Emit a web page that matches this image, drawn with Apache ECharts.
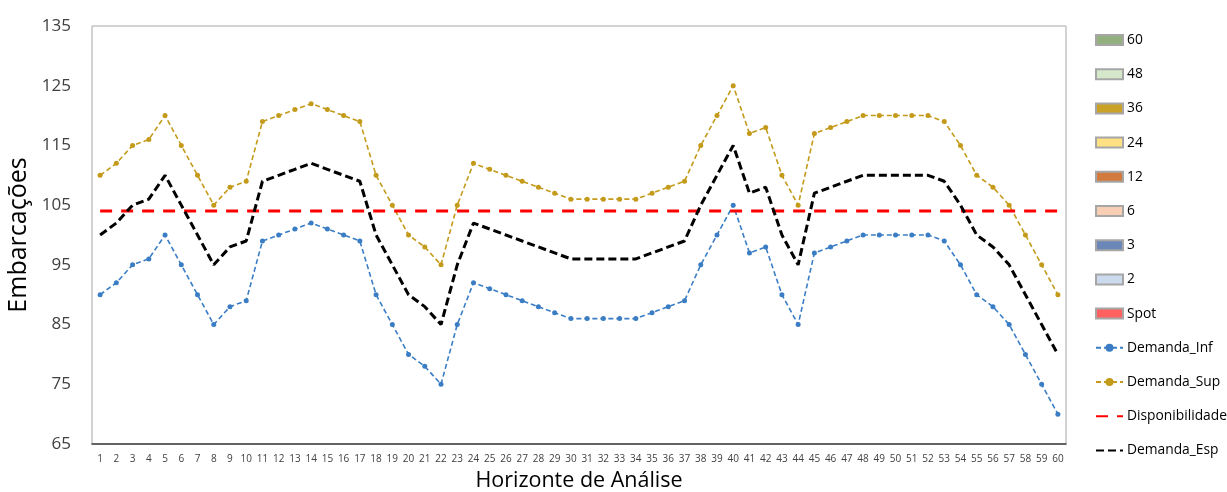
<!DOCTYPE html>
<html><head><meta charset="utf-8">
<script src="https://cdn.jsdelivr.net/npm/echarts@6/dist/echarts.min.js"></script>
<style>html,body{margin:0;padding:0;background:#fff}#c{width:1227px;height:492px}</style>
</head><body><div id="c"></div>
<script>
var categories = [];
for (var i = 1; i <= 60; i++) categories.push(String(i));
var yTicks = [65, 75, 85, 95, 105, 115, 125, 135];
var demandaInf = [90,92,95,96,100,95,90,85,88,89,99,100,101,102,101,100,99,90,85,80,78,75,85,92,91,90,89,88,87,86,86,86,86,86,87,88,89,95,100,105,97,98,90,85,97,98,99,100,100,100,100,100,99,95,90,88,85,80,75,70];
var demandaSup = [110,112,115,116,120,115,110,105,108,109,119,120,121,122,121,120,119,110,105,100,98,95,105,112,111,110,109,108,107,106,106,106,106,106,107,108,109,115,120,125,117,118,110,105,117,118,119,120,120,120,120,120,119,115,110,108,105,100,95,90];
var demandaEsp = [100,102,105,106,110,105,100,95,98,99,109,110,111,112,111,110,109,100,95,90,88,85,95,102,101,100,99,98,97,96,96,96,96,96,97,98,99,105,110,115,107,108,100,95,107,108,109,110,110,110,110,110,109,105,100,98,95,90,85,80];
var disponibilidadeValue = 104;
var disponibilidade = categories.map(function(){ return disponibilidadeValue; });
var barNames = ['60','48','36','24','12','6','3','2','Spot'];
var barColors = ['#93B07E','#D6E8CC','#C9A227','#FFE083','#D37B3F','#F8CFB5','#6A87B8','#CCDAEE','#FF6161'];
var barData = {}; // no bars visible in the reference
barNames.forEach(function(n){ barData[n] = []; });

var series = barNames.map(function(n, k){
  return { name: n, type: 'bar', stack: 'c', data: barData[n],
    itemStyle: { color: barColors[k], borderColor: '#a6a6a6', borderWidth: 0.5 } };
});
series.push({ name: 'Demanda_Inf', type: 'line', data: demandaInf, symbol: 'circle', symbolSize: 5,
  itemStyle: { color: '#3A7DC4' }, lineStyle: { color: '#3A7DC4', width: 1.6, type: [5, 3] } });
series.push({ name: 'Demanda_Sup', type: 'line', data: demandaSup, symbol: 'circle', symbolSize: 5,
  itemStyle: { color: '#C49A1A' }, lineStyle: { color: '#C49A1A', width: 1.6, type: [5, 3] } });
series.push({ name: 'Disponibilidade', type: 'line', data: disponibilidade, symbol: 'none',
  itemStyle: { color: '#FF0000' }, lineStyle: { color: '#FF0000', width: 3, type: [12, 9] } });
series.push({ name: 'Demanda_Esp', type: 'line', data: demandaEsp, symbol: 'none',
  itemStyle: { color: '#000000' }, lineStyle: { color: '#000000', width: 3, type: [8, 4] } });

var legendData = barNames.map(function(n){ return { name: n, icon: 'rect' }; }).concat([
  { name: 'Demanda_Inf' },
  { name: 'Demanda_Sup' },
  { name: 'Disponibilidade', itemStyle: { color: 'rgba(0,0,0,0)', borderWidth: 0 } },
  { name: 'Demanda_Esp', itemStyle: { color: 'rgba(0,0,0,0)', borderWidth: 0 } }
]);

var chart = echarts.init(document.getElementById('c'), null, { renderer: 'canvas' });
chart.setOption({
  animation: false,
  backgroundColor: '#fff',
  textStyle: { fontFamily: 'Open Sans' },
  grid: { left: 92, right: 161, top: 26, bottom: 48, show: true, borderColor: '#a6a6a6', borderWidth: 1,
          outerBoundsMode: 'none', containLabel: false },
  legend: {
    orient: 'vertical', left: 1090, top: 27, itemWidth: 27, itemHeight: 10, itemGap: 18.2,
    data: legendData,
    textStyle: { fontSize: 13.8, color: '#000', fontFamily: 'Open Sans', lineHeight: 16, padding: [0,0,0,-1] }
  },
  xAxis: {
    type: 'category', data: categories, boundaryGap: true,
    name: 'Horizonte de Análise', nameLocation: 'middle', nameGap: 26,
    nameTextStyle: { fontSize: 21.5, color: '#000' },
    axisLine: { lineStyle: { color: '#404040', width: 1.5 } },
    axisTick: { show: false },
    axisLabel: { interval: 0, fontSize: 10, color: '#404040', margin: 10 }
  },
  yAxis: {
    type: 'value', min: 65, max: 135,
    name: 'Embarcações', nameLocation: 'middle', nameGap: 58,
    nameTextStyle: { fontSize: 25, color: '#000' },
    axisLine: { show: false }, axisTick: { show: false }, splitLine: { show: false },
    axisLabel: { customValues: yTicks, fontSize: 17, color: '#404040', margin: 21 }
  },
  series: series
});
</script></body></html>
